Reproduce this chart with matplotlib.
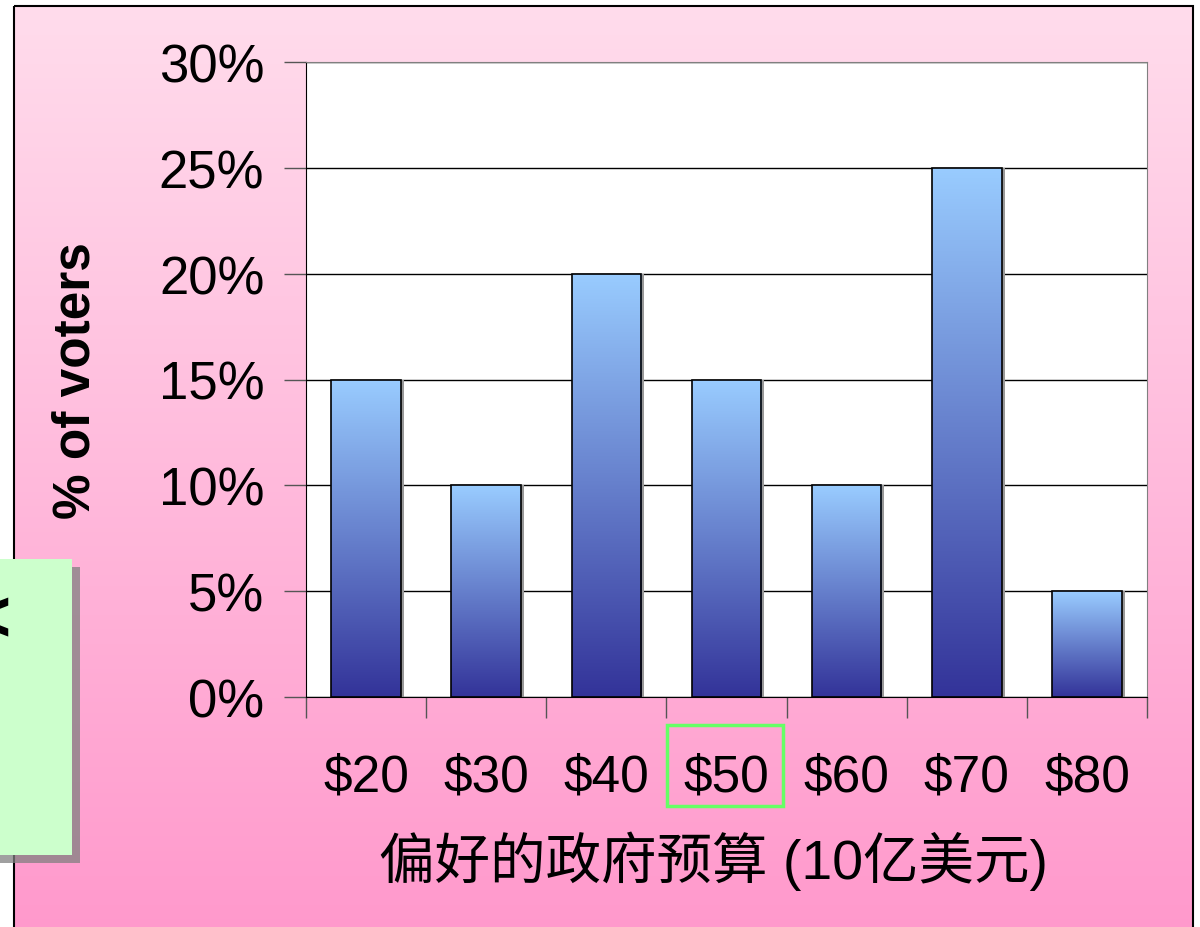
import numpy as np
import matplotlib.pyplot as plt
from matplotlib.patches import Rectangle
from matplotlib.colors import LinearSegmentedColormap

plt.rcParams['font.family'] = ['Liberation Sans', 'Noto Sans CJK SC', 'DejaVu Sans']

# data
budgets = ["$20", "$30", "$40", "$50", "$60", "$70", "$80"]
voters_pct = [15, 10, 20, 15, 10, 25, 5]
y_ticks = [0, 5, 10, 15, 20, 25, 30]
x_title = "偏好的政府预算 (10亿美元)"
y_title = "% of voters"

W, H = 1200, 928
fig = plt.figure(figsize=(W / 100, H / 100), dpi=100)

# pink slide background with a vertical gradient
bg = fig.add_axes([0, 0, 1, 1])
bg.set_xlim(0, W)
bg.set_ylim(H, 0)
bg.axis("off")
pink = LinearSegmentedColormap.from_list("pink", ["#ffdcec", "#ff99cc"])
grad = np.linspace(0, 1, 256).reshape(-1, 1)
bg.imshow(grad, cmap=pink, extent=[14, 1193, 935, 7], aspect="auto", zorder=0)
bg.add_patch(Rectangle((14, 7), 1179, 940, fill=False, edgecolor="black", lw=1.5, zorder=1))

# green note box on the left (mostly off-slide)
bg.add_patch(Rectangle((0, 568), 80, 296, facecolor="#808080", alpha=0.75, lw=0, zorder=2))
bg.add_patch(Rectangle((0, 560), 72, 296, facecolor="#ccffcc", lw=0, zorder=3))
bg.text(11, 622, "<", fontsize=52, fontweight="bold", ha="right", va="center", zorder=4)

# green highlight around $50
bg.add_patch(Rectangle((667, 726), 116, 81, fill=False, edgecolor="#66ff66", lw=2.5, zorder=5))

# chart
ax = fig.add_axes([306 / W, (H - 698) / H, (1147 - 306) / W, (698 - 63) / H])
ax.set_facecolor("white")
x = np.arange(len(budgets))
bar_w = 0.58
ax.set_xlim(-0.5, len(budgets) - 0.5)
ax.set_ylim(0, 30)

blue = LinearSegmentedColormap.from_list("blue", ["#333399", "#99ccff"])
bars = ax.bar(x, voters_pct, width=bar_w, facecolor="none", edgecolor="black", lw=1.2, zorder=3)
for b in bars:
    x0, y0 = b.get_x(), b.get_y()
    im = ax.imshow(grad[::-1], cmap=blue, extent=[x0, x0 + b.get_width(), y0, y0 + b.get_height()],
                   aspect="auto", origin="upper", zorder=2)
    im.set_clip_path(b)
    ax.add_patch(Rectangle((x0 + b.get_width(), 0), 0.025, b.get_height(),
                           facecolor="#999999", lw=0, zorder=1))

ax.set_yticks(y_ticks)
ax.set_yticklabels([f"{v}%" for v in y_ticks], fontsize=38)
ax.yaxis.grid(True, color="black", lw=1)
ax.set_axisbelow(True)
ax.tick_params(axis="y", length=16, width=1, pad=14, color="#555555")

ax.set_xticks(np.arange(-0.5, len(budgets), 1))
ax.set_xticklabels([])
ax.set_xticks(x, minor=True)
ax.set_xticklabels(budgets, minor=True, fontsize=37)
ax.tick_params(axis="x", which="major", length=15, width=1, color="#555555")
ax.tick_params(axis="x", which="minor", length=0, pad=40)

for s in ["top", "right"]:
    ax.spines[s].set_color("#808080")
ax.spines["left"].set_color("black")
ax.spines["bottom"].set_color("black")

ax.set_ylabel(y_title, fontsize=37, fontweight="bold", labelpad=42)
ax.set_xlabel(x_title, fontsize=40)
ax.xaxis.set_label_coords(0.484, -0.21)
ax.set_xlim(-0.5, len(budgets) - 0.5)

fig.savefig("out.png", dpi=100)
